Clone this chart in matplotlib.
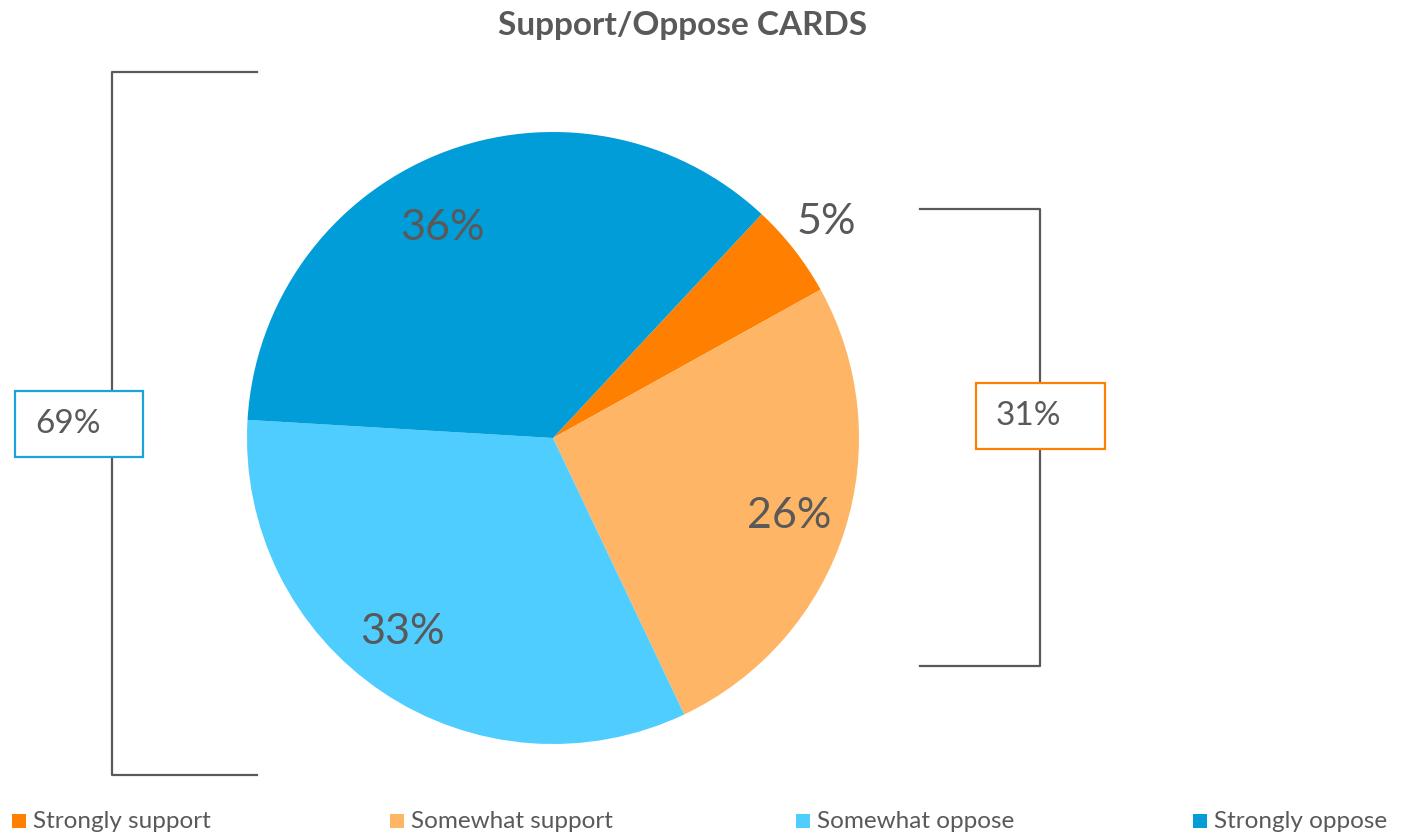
import matplotlib
matplotlib.use("Agg")
from matplotlib import pyplot as plt
from matplotlib.patches import Rectangle

plt.rcParams['font.family'] = ['Lato', 'DejaVu Sans']

categories = ['Strongly support', 'Somewhat support', 'Somewhat oppose', 'Strongly oppose']
values = [5, 26, 33, 36]
colors = ['#FF8000', '#FFB566', '#4FCDFF', '#009DD9']
group_labels = ['69%', '31%']
title = 'Support/Oppose CARDS'

W, H = 1404, 836
grey = '#595959'

fig = plt.figure(figsize=(W / 100, H / 100), dpi=100)
ax = fig.add_axes([0, 0, 1, 1])

def Y(y):
    return H - y

# pie
ax.pie(values, colors=colors, startangle=47, counterclock=False,
       center=(553, Y(438)), radius=306, frame=True,
       wedgeprops=dict(linewidth=0))
ax.set_xlim(0, W)
ax.set_ylim(0, H)
ax.set_aspect('equal')
ax.axis('off')

# slice labels
label_pos = [(826, 222), (789, 516), (402, 632), (442, 228)]
for v, (x, y) in zip(values, label_pos):
    ax.text(x, Y(y), f'{v}%', fontsize=31, color=grey, ha='center', va='center')

# brackets
lw = 1.6
ax.plot([257, 112, 112, 257], [Y(72), Y(72), Y(775), Y(775)], color=grey, lw=lw)
ax.plot([920, 1040, 1040, 920], [Y(209), Y(209), Y(666), Y(666)], color=grey, lw=lw)

# group boxes
ax.add_patch(Rectangle((15, Y(457)), 128, 66, facecolor='white', edgecolor='#1AA3DC', lw=1.6, zorder=3))
ax.text(35, Y(424), group_labels[0], fontsize=24, color=grey, ha='left', va='center', zorder=4)
ax.add_patch(Rectangle((976, Y(449)), 129, 66, facecolor='white', edgecolor='#FF8000', lw=1.6, zorder=3))
ax.text(996, Y(416), group_labels[1], fontsize=24, color=grey, ha='left', va='center', zorder=4)

# title
ax.text(683, Y(25), title, fontsize=24, fontweight='bold', color=grey, ha='center', va='center')

# legend
leg_x = [12, 390, 796, 1193]
for cat, c, x in zip(categories, colors, leg_x):
    ax.add_patch(Rectangle((x, Y(828)), 14, 14, facecolor=c, edgecolor='none'))
    ax.text(x + 21, Y(821), cat, fontsize=17.5, color=grey, ha='left', va='center')

fig.savefig('out.png', dpi=100)
